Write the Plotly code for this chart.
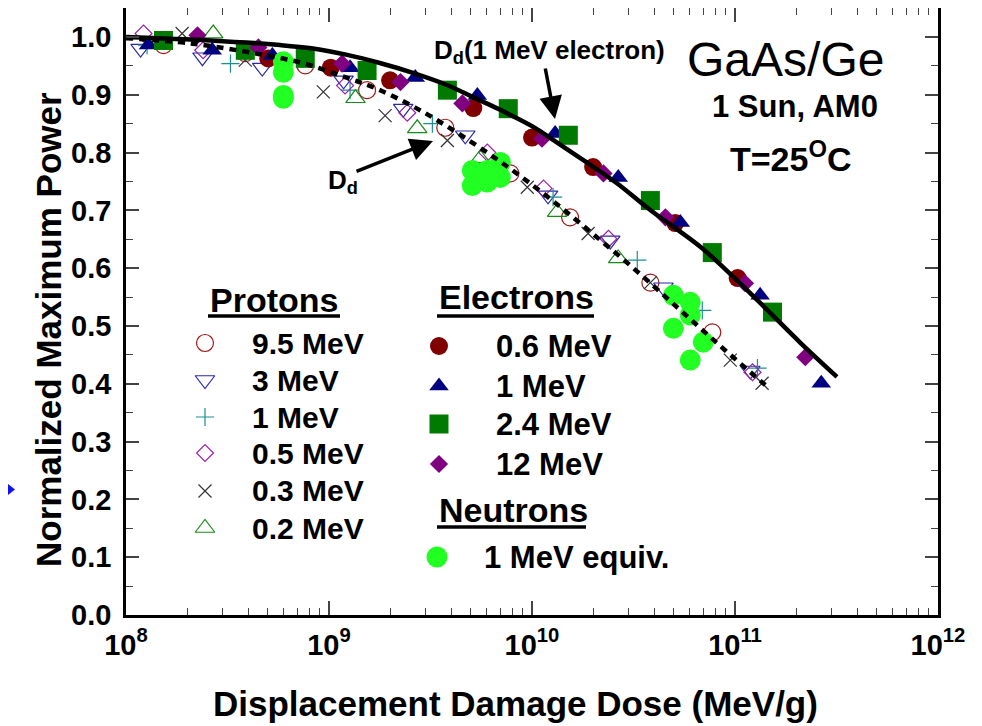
import plotly.graph_objects as go

# ---------------- data ----------------
# Protons (open symbols)
p95_x = [1.53e8, 3.87e8, 7.64e8, 1.54e9, 3.74e9, 7.82e9, 1.54e10, 3.83e10, 7.73e10]
p95_y = [0.986, 0.972, 0.951, 0.908, 0.843, 0.764, 0.688, 0.575, 0.489]

p3_x = [1.18e8, 2.38e8, 4.69e8, 1.18e9, 2.32e9, 4.69e9, 1.20e10, 2.43e10, 4.44e10, 1.19e11]
p3_y = [0.980, 0.965, 0.947, 0.925, 0.876, 0.830, 0.726, 0.648, 0.567, 0.423]

p1_x = [1.27e8, 3.27e8, 1.27e9, 3.23e9, 1.27e10, 3.30e10, 6.90e10, 1.29e11]
p1_y = [0.986, 0.954, 0.908, 0.850, 0.723, 0.614, 0.527, 0.427]

p05_x = [1.22e8, 2.40e8, 1.20e9, 2.43e9, 6.02e9, 1.14e10, 2.38e10, 1.22e11]
p05_y = [1.006, 0.977, 0.916, 0.869, 0.800, 0.738, 0.651, 0.420]

p03_x = [1.89e8, 3.87e8, 9.38e8, 1.89e9, 3.83e9, 9.48e9, 1.89e10, 3.83e10, 9.48e10, 1.36e11]
p03_y = [1.006, 0.960, 0.905, 0.864, 0.821, 0.740, 0.660, 0.575, 0.441, 0.401]

p02_x = [2.69e8, 1.35e9, 2.72e9, 5.56e9, 1.33e10, 2.66e10]
p02_y = [1.006, 0.894, 0.842, 0.790, 0.697, 0.617]

# Electrons (filled symbols)
e06_x = [5.02e8, 1.02e9, 2.00e9, 5.14e9, 1.00e10, 2.00e10, 5.08e10, 1.03e11]
e06_y = [0.963, 0.947, 0.925, 0.877, 0.826, 0.775, 0.678, 0.583]

e1_x = [1.29e8, 2.66e8, 5.26e8, 1.27e9, 2.66e9, 5.38e9, 1.30e10, 2.66e10, 5.38e10, 1.33e11, 2.66e11]
e1_y = [0.986, 0.977, 0.968, 0.947, 0.930, 0.899, 0.833, 0.757, 0.679, 0.553, 0.401]

e24_x = [1.53e8, 3.87e8, 7.64e8, 1.54e9, 3.83e9, 7.64e9, 1.51e10, 3.83e10, 7.73e10, 1.53e11]
e24_y = [0.994, 0.977, 0.963, 0.942, 0.908, 0.876, 0.830, 0.717, 0.627, 0.524]

e12_x = [2.25e8, 4.49e8, 1.16e9, 2.25e9, 4.54e9, 1.12e10, 2.25e10, 4.54e10, 1.12e11, 2.22e11]
e12_y = [1.003, 0.982, 0.954, 0.922, 0.885, 0.824, 0.764, 0.688, 0.574, 0.446]

# Neutrons (1 MeV equivalent)
n_x = [5.96e8, 5.96e8, 5.96e8, 5.96e8,
       5.08e9, 5.08e9, 6.02e9, 6.98e9, 6.98e9, 6.02e9,
       4.97e10, 6.02e10, 6.02e10, 4.97e10, 6.98e10, 6.02e10]
n_y = [0.957, 0.939, 0.899, 0.894,
       0.769, 0.743, 0.749, 0.783, 0.757, 0.769,
       0.553, 0.541, 0.519, 0.496, 0.472, 0.441]

# Fitted curves
dd_e_x = [1.0e8, 2.60e8, 5.74e8, 8.34e8, 1.23e9, 1.78e9, 2.59e9, 3.81e9, 5.12e9, 6.97e9,
          1.01e10, 1.27e10, 1.79e10, 2.62e10, 3.81e10, 6.75e10, 9.82e10, 1.44e11, 2.10e11,
          3.18e11]
dd_e_y = [1.000, 0.994, 0.986, 0.980, 0.969, 0.955, 0.938, 0.917, 0.896, 0.874,
          0.845, 0.822, 0.787, 0.747, 0.701, 0.637, 0.585, 0.528, 0.471,
          0.412]

dd_p_x = [1.0e8, 2.07e8, 4.44e8, 7.38e8, 1.17e9, 1.73e9, 2.82e9, 4.80e9, 7.82e9,
          1.23e10, 1.94e10, 3.16e10, 5.20e10, 8.18e10, 1.19e11, 1.41e11]
dd_p_y = [0.998, 0.989, 0.971, 0.955, 0.932, 0.910, 0.873, 0.823, 0.772,
          0.720, 0.663, 0.600, 0.532, 0.470, 0.420, 0.398]

x_tickvals = [1e8, 1e9, 1e10, 1e11, 1e12]
x_ticktext = ["10<sup>8</sup>", "10<sup>9</sup>", "10<sup>10</sup>", "10<sup>11</sup>", "10<sup>12</sup>"]
y_tickvals = [0.0, 0.1, 0.2, 0.3, 0.4, 0.5, 0.6, 0.7, 0.8, 0.9, 1.0]

# ---------------- layout helpers ----------------
# the page body has an 8px margin, so the figure starts at (8, 8) on screen
OFF = 8
W, H = 982 - OFF, 726 - OFF
PL, PR, PT, PB = 126, 938, 8, 615          # plot area on screen
L, R, T, B = PL - OFF, W + OFF - PR, PT - OFF, H + OFF - PB
PW, PH = PR - PL, PB - PT
UNIT = 578                                  # screen pixels per 1.0 on the y axis
FONT = "Liberation Sans, Arial, sans-serif"


def PX(px):
    return (px - PL) / PW


def PY(py):
    return (PB - py) / PH


C_P95 = "#a01818"
C_P3 = "#2a2aa8"
C_P1 = "#1a9090"
C_P05 = "#9a22a8"
C_P03 = "#333333"
C_P02 = "#1a8a1a"
C_E06 = "#800000"
C_E1 = "#000080"
C_E24 = "#007a00"
C_E12 = "#800080"
C_N = "#22ff22"

protons = [
    ("9.5 MeV", p95_x, p95_y, "circle-open", 17, C_P95),
    ("3 MeV", p3_x, p3_y, "triangle-down-open", 17, C_P3),
    ("1 MeV", p1_x, p1_y, "cross-thin-open", 13, C_P1),
    ("0.5 MeV", p05_x, p05_y, "diamond-open", 13, C_P05),
    ("0.3 MeV", p03_x, p03_y, "x-thin-open", 13, C_P03),
    ("0.2 MeV", p02_x, p02_y, "triangle-up-open", 17, C_P02),
]
electrons = [
    ("0.6 MeV", e06_x, e06_y, "circle", 18, C_E06),
    ("1 MeV", e1_x, e1_y, "triangle-up", 17, C_E1),
    ("2.4 MeV", e24_x, e24_y, "square", 19, C_E24),
    ("12 MeV", e12_x, e12_y, "diamond", 14, C_E12),
]
neutron = ("1 MeV equiv.", n_x, n_y, "circle", 21, C_N)

fig = go.Figure()

for name, xs, ys, sym, sz, col in protons:
    fig.add_trace(go.Scatter(x=xs, y=ys, mode="markers", name=name, showlegend=False,
                             marker=dict(symbol=sym, size=sz, color=col,
                                         line=dict(color=col, width=1.2))))
for name, xs, ys, sym, sz, col in electrons:
    fig.add_trace(go.Scatter(x=xs, y=ys, mode="markers", name=name, showlegend=False,
                             marker=dict(symbol=sym, size=sz, color=col, line=dict(width=0))))
fig.add_trace(go.Scatter(x=neutron[1], y=neutron[2], mode="markers", name=neutron[0],
                         showlegend=False,
                         marker=dict(symbol=neutron[3], size=neutron[4], color=neutron[5],
                                     line=dict(width=0))))

# curves on top
fig.add_trace(go.Scatter(x=dd_p_x, y=dd_p_y, mode="lines", showlegend=False,
                         line=dict(color="black", width=4.5, dash="7px,6px",
                                   shape="spline", smoothing=1.0)))
fig.add_trace(go.Scatter(x=dd_e_x, y=dd_e_y, mode="lines", showlegend=False,
                         line=dict(color="black", width=4.5, shape="spline", smoothing=1.0)))

# ---------------- hand-made legend (overlay axes in plot fractions) ----------------
leg_p_sym_x = 205
leg_p_txt_x = 250
leg_p_rows = [343, 380, 417, 453, 491, 528]
leg_e_sym_x = 439
leg_e_txt_x = 494
leg_e_rows = [346, 386, 424, 464]
leg_n_sym = (437, 557)
leg_n_txt_x = 482

annotations = []
shapes = []

for (name, xs, ys, sym, sz, col), ry in zip(protons, leg_p_rows):
    fig.add_trace(go.Scatter(x=[PX(leg_p_sym_x)], y=[PY(ry)], xaxis="x2", yaxis="y2",
                             mode="markers", showlegend=False, hoverinfo="skip",
                             marker=dict(symbol=sym, size=sz, color=col,
                                         line=dict(color=col, width=1.2))))
    annotations.append(dict(x=PX(leg_p_txt_x), y=PY(ry), xref="paper", yref="paper",
                            xanchor="left", yanchor="middle", showarrow=False, text=name,
                            font=dict(family=FONT, size=30, color="black", weight="bold")))
for (name, xs, ys, sym, sz, col), ry in zip(electrons, leg_e_rows):
    fig.add_trace(go.Scatter(x=[PX(leg_e_sym_x)], y=[PY(ry)], xaxis="x2", yaxis="y2",
                             mode="markers", showlegend=False, hoverinfo="skip",
                             marker=dict(symbol=sym, size=sz, color=col, line=dict(width=0))))
    annotations.append(dict(x=PX(leg_e_txt_x), y=PY(ry), xref="paper", yref="paper",
                            xanchor="left", yanchor="middle", showarrow=False, text=name,
                            font=dict(family=FONT, size=31, color="black", weight="bold")))
fig.add_trace(go.Scatter(x=[PX(leg_n_sym[0])], y=[PY(leg_n_sym[1])], xaxis="x2", yaxis="y2",
                         mode="markers", showlegend=False, hoverinfo="skip",
                         marker=dict(symbol="circle", size=21, color=C_N, line=dict(width=0))))
annotations.append(dict(x=PX(leg_n_txt_x), y=PY(leg_n_sym[1]), xref="paper", yref="paper",
                        xanchor="left", yanchor="middle", showarrow=False, text=neutron[0],
                        font=dict(family=FONT, size=31, color="black", weight="bold")))

for title, tx, ty, ux1, uy in [("Protons", 208, 300, 340, 316),
                                ("Electrons", 437, 297, 594, 316),
                                ("Neutrons", 437, 510, 586, 527)]:
    annotations.append(dict(x=PX(tx), y=PY(ty), xref="paper", yref="paper",
                            xanchor="left", yanchor="middle", showarrow=False, text=title,
                            font=dict(family=FONT, size=34, color="black", weight="bold")))
    shapes.append(dict(type="line", xref="paper", yref="paper", x0=PX(tx), x1=PX(ux1),
                       y0=PY(uy), y1=PY(uy), line=dict(color="black", width=3.5)))

# ---------------- text labels ----------------
annotations += [
    dict(x=PX(785), y=PY(59), xref="paper", yref="paper", showarrow=False, text="GaAs/Ge",
         xanchor="center", yanchor="middle", font=dict(family=FONT, size=48, color="black")),
    dict(x=PX(795), y=PY(107), xref="paper", yref="paper", showarrow=False, text="1 Sun, AM0",
         xanchor="center", yanchor="middle",
         font=dict(family=FONT, size=31, color="black", weight="bold")),
    dict(x=PX(791), y=PY(156), xref="paper", yref="paper", showarrow=False,
         text="T=25<sup>O</sup>C", xanchor="center", yanchor="middle",
         font=dict(family=FONT, size=34, color="black", weight="bold")),
    dict(x=PX(432), y=PY(52), xref="paper", yref="paper", showarrow=False,
         text="D<sub>d</sub>(1 MeV electron)", xanchor="left", yanchor="middle",
         font=dict(family=FONT, size=26, color="black", weight="bold")),
    dict(x=PX(326), y=PY(181), xref="paper", yref="paper", showarrow=False,
         text="D<sub>d</sub>", xanchor="left", yanchor="middle",
         font=dict(family=FONT, size=26, color="black", weight="bold")),
    # arrows
    dict(x=PX(555), y=PY(119), xref="paper", yref="paper", showarrow=True, text="",
         ax=-10, ay=-52, arrowhead=2, arrowsize=1.3, arrowwidth=3.5, arrowcolor="black"),
    dict(x=PX(433), y=PY(141), xref="paper", yref="paper", showarrow=True, text="",
         ax=-78, ay=31, arrowhead=2, arrowsize=1.3, arrowwidth=3.5, arrowcolor="black"),
    # axis titles
    dict(x=PX(515), y=PY(703), xref="paper", yref="paper", showarrow=False,
         text="Displacement Damage Dose (MeV/g)", xanchor="center", yanchor="middle",
         font=dict(family=FONT, size=35, color="black", weight="bold")),
    dict(x=PX(48), y=PY(330), xref="paper", yref="paper", showarrow=False,
         text="Normalized Maximum Power", textangle=-90, xanchor="center", yanchor="middle",
         font=dict(family=FONT, size=35, color="black", weight="bold")),
]

# small blue pointer at the far left edge
shapes.append(dict(type="path", xref="paper", yref="paper",
                   path=f"M {PX(8)} {PY(484)} L {PX(15)} {PY(489.5)} L {PX(8)} {PY(495)} Z",
                   fillcolor="#1010ff", line=dict(width=0)))

x_minor = [m * 10 ** e for e in range(8, 12) for m in range(2, 10)]

fig.update_layout(
    width=W, height=H,
    margin=dict(l=L, r=R, t=T, b=B, pad=0),
    paper_bgcolor="white", plot_bgcolor="white",
    font=dict(family=FONT, color="black"),
    showlegend=False,
    annotations=annotations,
    shapes=shapes,
    xaxis=dict(type="log", range=[8, 12], showgrid=False, zeroline=False,
               showline=True, linecolor="black", linewidth=2.5, mirror="allticks",
               ticks="inside", ticklen=14, tickwidth=1.5, tickcolor="#444",
               tickmode="array", tickvals=x_tickvals, ticktext=x_ticktext,
               tickfont=dict(family=FONT, size=29, color="black", weight="bold"),
               ticklabelstandoff=2,
               minor=dict(tickmode="array", tickvals=x_minor, ticks="inside", ticklen=7,
                          tickwidth=1.2, tickcolor="#444", showgrid=False),
               automargin=False, fixedrange=True),
    yaxis=dict(range=[0, PH / UNIT], showgrid=False, zeroline=False,
               showline=True, linecolor="black", linewidth=2.5, mirror="allticks",
               ticks="inside", ticklen=13, tickwidth=1.5, tickcolor="#444",
               tickmode="array", tickvals=y_tickvals, tickformat=".1f",
               tickfont=dict(family=FONT, size=29, color="black", weight="bold"),
               ticklabelstandoff=6,
               minor=dict(dtick=0.05, ticks="inside", ticklen=7, tickwidth=1.2,
                          tickcolor="#444", showgrid=False),
               automargin=False, fixedrange=True),
    xaxis2=dict(overlaying="x", range=[0, 1], visible=False, fixedrange=True),
    yaxis2=dict(overlaying="y", range=[0, 1], visible=False, fixedrange=True),
)

fig.write_html("out.html")
